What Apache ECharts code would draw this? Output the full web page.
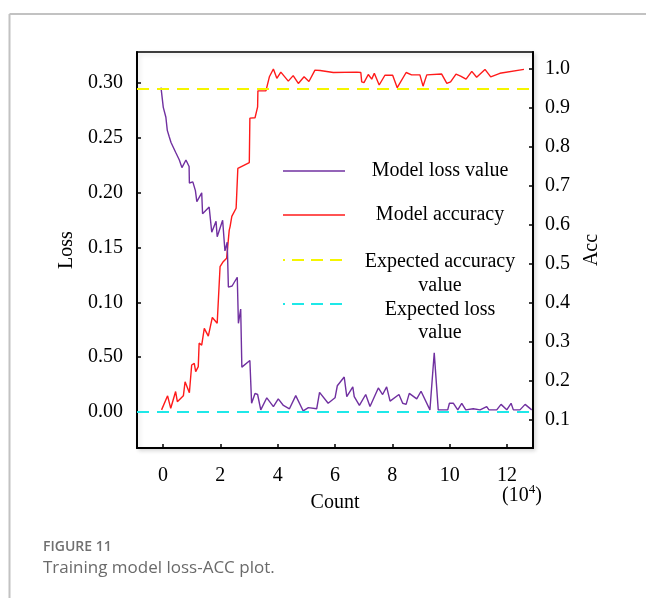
<!DOCTYPE html>
<html>
<head>
<meta charset="utf-8">
<title>Training model loss-ACC plot</title>
<script src="https://cdn.jsdelivr.net/npm/echarts@6/dist/echarts.min.js"></script>
<style>
  html, body { margin: 0; padding: 0; background: #fff; }
  #chart { width: 646px; height: 598px; }
</style>
</head>
<body>
<div id="chart"></div>
<script>
// Training steps (x 10^4) and model loss
const lossCount = [-0.07, 0.01, 0.10, 0.15, 0.22, 0.28, 0.44, 0.57, 0.66, 0.80, 0.91, 0.92, 1.04, 1.13, 1.18, 1.35, 1.38, 1.61, 1.70, 1.85, 1.89, 2.08, 2.16, 2.24, 2.28, 2.41, 2.59, 2.63, 2.71, 2.75, 3.03, 3.09, 3.21, 3.30, 3.41, 3.62, 3.85, 4.02, 4.20, 4.41, 4.63, 4.89, 5.07, 5.36, 5.46, 5.76, 6.00, 6.08, 6.32, 6.41, 6.62, 6.67, 6.85, 7.07, 7.22, 7.51, 7.66, 7.80, 7.92, 8.23, 8.36, 8.48, 8.59, 8.85, 9.00, 9.31, 9.46, 9.60, 9.93, 9.99, 10.13, 10.28, 10.42, 10.56, 10.82, 11.06, 11.29, 11.37, 11.64, 11.79, 11.99, 12.14, 12.22, 12.45, 12.63, 12.86];
const lossValue = [0.296, 0.278, 0.269, 0.257, 0.251, 0.246, 0.237, 0.230, 0.223, 0.230, 0.224, 0.209, 0.210, 0.202, 0.192, 0.200, 0.181, 0.187, 0.164, 0.174, 0.160, 0.175, 0.147, 0.155, 0.114, 0.115, 0.123, 0.081, 0.094, 0.041, 0.047, 0.008, 0.017, 0.016, 0.002, 0.013, 0.005, 0.012, 0.006, 0.003, 0.015, 0.001, 0.004, 0.003, 0.018, 0.008, 0.013, 0.024, 0.032, 0.014, 0.023, 0.014, 0.006, 0.016, 0.005, 0.022, 0.016, 0.023, 0.010, 0.016, 0.008, 0.007, 0.017, 0.012, 0.019, 0.002, 0.054, 0.002, 0.002, 0.008, 0.008, 0.002, 0.008, 0.002, 0.003, 0.002, 0.005, 0.002, 0.002, 0.007, 0.002, 0.008, 0.002, 0.002, 0.007, 0.002];

// Training steps (x 10^4) and model accuracy
const accCount = [-0.05, 0.16, 0.27, 0.44, 0.50, 0.71, 0.77, 0.92, 1.00, 1.09, 1.14, 1.23, 1.26, 1.35, 1.44, 1.58, 1.72, 1.89, 1.99, 2.10, 2.22, 2.31, 2.34, 2.40, 2.55, 2.61, 3.01, 3.03, 3.21, 3.30, 3.31, 3.59, 3.71, 3.85, 3.97, 4.11, 4.37, 4.54, 4.72, 4.92, 5.09, 5.30, 5.48, 5.94, 6.76, 6.90, 6.93, 7.01, 7.16, 7.28, 7.37, 7.54, 7.74, 8.01, 8.17, 8.48, 8.67, 8.96, 9.07, 9.20, 9.72, 9.90, 10.03, 10.22, 10.38, 10.57, 10.77, 10.94, 11.23, 11.43, 11.75, 12.59];
const accValue = [0.126, 0.162, 0.130, 0.173, 0.147, 0.162, 0.198, 0.170, 0.241, 0.245, 0.224, 0.237, 0.297, 0.292, 0.335, 0.315, 0.363, 0.348, 0.493, 0.506, 0.515, 0.587, 0.596, 0.622, 0.643, 0.745, 0.760, 0.874, 0.875, 0.903, 0.944, 0.944, 0.980, 1.000, 0.976, 0.992, 0.969, 0.983, 0.963, 0.980, 0.968, 0.997, 0.996, 0.991, 0.992, 0.991, 0.967, 0.965, 0.986, 0.974, 0.989, 0.959, 0.984, 0.984, 0.952, 0.991, 0.985, 0.985, 0.956, 0.985, 0.987, 0.963, 0.967, 0.987, 0.982, 0.974, 0.994, 0.979, 0.999, 0.980, 0.989, 0.999];

// Target levels
const expectedAccuracy = [0.95];
const expectedLoss = [0.0];

// Tick positions and their printed labels
const countTicks = [0, 2, 4, 6, 8, 10, 12];
const lossTicks = [0, 0.05, 0.10, 0.15, 0.20, 0.25, 0.30];
const lossTickLabels = ['0.00', '0.50', '0.10', '0.15', '0.20', '0.25', '0.30'];
const accTicks = [0.1, 0.2, 0.3, 0.4, 0.5, 0.6, 0.7, 0.8, 0.9, 1.0];
const accTickLabels = ['0.1', '0.2', '0.3', '0.4', '0.5', '0.6', '0.7', '0.8', '0.9', '1.0'];

const legendNames = ['Model loss value', 'Model accuracy', 'Expected accuracy', 'value', 'Expected loss', 'value'];

const SERIF = "'Liberation Serif', 'Times New Roman', 'DejaVu Serif', serif";
const SANS = "'Open Sans', 'Noto Sans', sans-serif";
const C_LOSS = '#7030A0', C_ACC = '#FF1A1A', C_EXP_ACC = '#F5F500', C_EXP_LOSS = '#1EE8E8';

const pairs = (xs, ys) => xs.map((x, i) => [x, ys[i]]);

const chart = echarts.init(document.getElementById('chart'), null, { renderer: 'canvas' });

const axisText = { color: '#000', fontFamily: SERIF, fontSize: 20 };

chart.setOption({
  animation: false,
  backgroundColor: '#fff',
  grid: {
    left: 137, top: 52, right: 113, bottom: 150,
    show: true, borderColor: '#000', borderWidth: 1.5, backgroundColor: '#fff',
    shadowColor: 'rgba(0,0,0,0.14)', shadowBlur: 4, shadowOffsetX: 2, shadowOffsetY: 2
  },
  xAxis: {
    type: 'value', min: -0.907, max: 12.905,
    name: 'Count', nameLocation: 'middle', nameGap: 45,
    nameTextStyle: axisText,
    axisLine: { show: true, onZero: false, lineStyle: { color: '#000', width: 2 } },
    axisTick: { show: true, inside: true, length: 4, customValues: countTicks, lineStyle: { color: '#000', width: 1.5 } },
    axisLabel: { customValues: countTicks, margin: 18, ...axisText },
    splitLine: { show: false }
  },
  yAxis: [
    {
      type: 'value', min: -0.0328, max: 0.3285, position: 'left',
      name: 'Loss', nameLocation: 'middle', nameGap: 59, nameRotate: 90,
      nameTextStyle: axisText,
      axisLine: { show: true, onZero: false, lineStyle: { color: '#000', width: 2 } },
      axisTick: { show: true, inside: true, length: 4, customValues: lossTicks, lineStyle: { color: '#000', width: 1.5 } },
      axisLabel: {
        customValues: lossTicks, margin: 14, ...axisText,
        formatter: v => {
          const i = lossTicks.findIndex(t => Math.abs(t - v) < 1e-6);
          return i >= 0 ? lossTickLabels[i] : '';
        }
      },
      splitLine: { show: false }
    },
    {
      type: 'value', min: 0.0282, max: 1.0436, position: 'right',
      name: 'Acc', nameLocation: 'middle', nameGap: 49, nameRotate: 90,
      nameTextStyle: axisText,
      axisLine: { show: true, onZero: false, lineStyle: { color: '#000', width: 2 } },
      axisTick: { show: true, inside: true, length: 4, customValues: accTicks, lineStyle: { color: '#000', width: 1.5 } },
      axisLabel: {
        customValues: accTicks, margin: 12, ...axisText,
        formatter: v => {
          const i = accTicks.findIndex(t => Math.abs(t - v) < 1e-6);
          return i >= 0 ? accTickLabels[i] : '';
        }
      },
      splitLine: { show: false }
    }
  ],
  series: [
    {
      name: 'Model accuracy', type: 'line', yAxisIndex: 1,
      data: pairs(accCount, accValue),
      showSymbol: false, symbol: 'none', z: 3,
      lineStyle: { color: C_ACC, width: 1.4 },
      markLine: {
        silent: true, symbol: ['none', 'none'], label: { show: false },
        lineStyle: { color: C_EXP_ACC, width: 2, type: [12, 8] },
        data: expectedAccuracy.map(v => ({ yAxis: v }))
      }
    },
    {
      name: 'Model loss value', type: 'line', yAxisIndex: 0,
      data: pairs(lossCount, lossValue),
      showSymbol: false, symbol: 'none', z: 4,
      lineStyle: { color: C_LOSS, width: 1.4 },
      markLine: {
        silent: true, symbol: ['none', 'none'], label: { show: false },
        lineStyle: { color: C_EXP_LOSS, width: 2, type: [12, 8] },
        data: expectedLoss.map(v => ({ yAxis: v }))
      }
    }
  ],
  graphic: [
    // figure frame
    { type: 'line', shape: { x1: 9.5, y1: 14, x2: 646, y2: 14 }, style: { stroke: '#c2c2c2', lineWidth: 2 }, silent: true },
    { type: 'line', shape: { x1: 9.5, y1: 14, x2: 9.5, y2: 598 }, style: { stroke: '#c2c2c2', lineWidth: 2 }, silent: true },
    // legend
    { type: 'line', shape: { x1: 283, y1: 171, x2: 345, y2: 171 }, style: { stroke: C_LOSS, lineWidth: 1.5 }, z: 10 },
    { type: 'text', x: 440, y: 171, style: { text: legendNames[0], font: '20px ' + SERIF, fill: '#000', align: 'center', verticalAlign: 'middle' }, z: 10 },
    { type: 'line', shape: { x1: 283, y1: 215, x2: 345, y2: 215 }, style: { stroke: C_ACC, lineWidth: 1.5 }, z: 10 },
    { type: 'text', x: 440, y: 215, style: { text: legendNames[1], font: '20px ' + SERIF, fill: '#000', align: 'center', verticalAlign: 'middle' }, z: 10 },
    { type: 'line', shape: { x1: 283, y1: 260, x2: 345, y2: 260 }, style: { stroke: C_EXP_ACC, lineWidth: 2, lineDash: [12, 7], lineDashOffset: 10 }, z: 10 },
    { type: 'text', x: 440, y: 262, style: { text: legendNames[2], font: '20px ' + SERIF, fill: '#000', align: 'center', verticalAlign: 'middle' }, z: 10 },
    { type: 'text', x: 440, y: 286, style: { text: legendNames[3], font: '20px ' + SERIF, fill: '#000', align: 'center', verticalAlign: 'middle' }, z: 10 },
    { type: 'line', shape: { x1: 283, y1: 304, x2: 345, y2: 304 }, style: { stroke: C_EXP_LOSS, lineWidth: 2, lineDash: [12, 7], lineDashOffset: 10 }, z: 10 },
    { type: 'text', x: 440, y: 310, style: { text: legendNames[4], font: '20px ' + SERIF, fill: '#000', align: 'center', verticalAlign: 'middle' }, z: 10 },
    { type: 'text', x: 440, y: 333, style: { text: legendNames[5], font: '20px ' + SERIF, fill: '#000', align: 'center', verticalAlign: 'middle' }, z: 10 },
    // unit of the count axis
    {
      type: 'text', x: 502, y: 496, z: 10,
      style: {
        text: '{b|(10}{s|4}{b|)}',
        verticalAlign: 'middle',
        rich: {
          b: { fontFamily: SERIF, fontSize: 20, fill: '#000', color: '#000' },
          s: { fontFamily: SERIF, fontSize: 13, fill: '#000', color: '#000', verticalAlign: 'top', padding: [0, 0, 12, 0] }
        }
      }
    },
    // caption
    { type: 'text', x: 43, y: 547, style: { text: 'FIGURE 11', font: '600 14px ' + SANS, fill: '#707070', verticalAlign: 'middle' } },
    { type: 'text', x: 43, y: 568, style: { text: 'Training model loss-ACC plot.', font: '17px ' + SANS, fill: '#6a6a6a', verticalAlign: 'middle' } }
  ]
});
</script>
</body>
</html>
